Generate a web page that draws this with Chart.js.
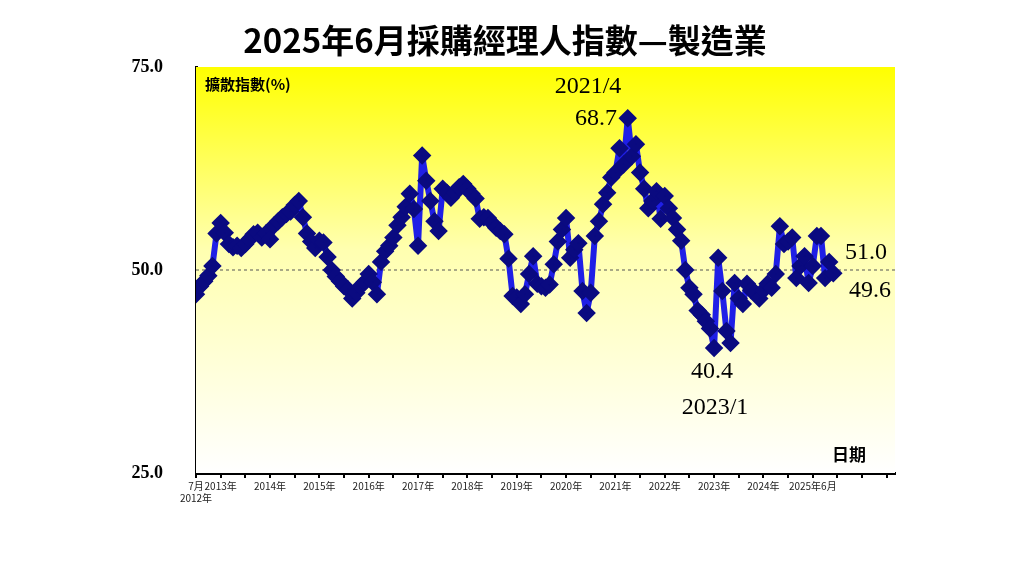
<!DOCTYPE html>
<html>
<head>
<meta charset="utf-8">
<script src="https://cdn.jsdelivr.net/npm/chart.js@4/dist/chart.umd.min.js"></script>
<style>
  body { margin: 0; background: #fff; }
  canvas { display: block; }
</style>
</head>
<body>
<canvas id="pmiChart" width="1024" height="576"></canvas>
<script>
/* 資料：2012年7月 ~ 2025年6月 */
const months = Array.from({ length: 156 }, (_, i) => i);
const pmi = [
  47.0, 48.0, 48.6, 49.3, 50.5, 54.5, 55.8, 54.6, 53.2, 52.8, 53.0, 52.7,
  53.2, 53.8, 54.4, 54.6, 54.0, 54.5, 53.8, 55.5, 56.0, 56.5, 56.9, 57.2,
  58.0, 58.5, 56.5, 54.5, 53.5, 52.7, 53.6, 53.4, 51.6, 50.0, 49.2, 48.6,
  48.0, 47.6, 46.5, 47.2, 48.0, 48.5, 49.5, 48.5, 47.0, 51.0, 52.3, 53.0,
  54.0, 55.5, 56.5, 57.8, 59.4, 57.5, 53.0, 64.1, 61.0, 58.5, 56.0, 54.8,
  60.0, 59.5, 58.9, 59.5, 60.2, 60.6, 60.0, 59.4, 58.8, 56.3, 56.5, 56.4,
  55.8, 55.2, 54.8, 54.4, 51.4, 46.8, 46.6, 45.8, 47.0, 49.5, 51.7, 48.3,
  48.0, 47.8, 48.2, 50.7, 53.5, 55.0, 56.4, 51.5, 52.5, 53.3, 47.4, 44.7,
  47.2, 54.2, 56.0, 58.1, 59.5, 61.4, 62.0, 65.0, 63.0, 68.7, 64.0, 65.5,
  62.0, 60.0, 57.6, 58.5, 59.7, 56.3, 59.1, 57.6, 56.4, 55.0, 53.6, 50.0,
  47.8, 47.0, 45.0, 44.5, 43.7, 42.8, 40.4, 51.5, 47.4, 42.5, 41.0, 48.4,
  46.5, 45.8, 48.3, 47.5, 47.2, 46.5, 47.5, 48.3, 47.8, 49.5, 55.4, 53.2,
  53.5, 54.0, 49.0, 50.5, 51.7, 48.4, 50.5, 54.2, 54.2, 49.0, 51.0, 49.6
];
const yTicks = [25, 50, 75];
const yearLabels = ['2013年', '2014年', '2015年', '2016年', '2017年', '2018年',
  '2019年', '2020年', '2021年', '2022年', '2023年', '2024年'];
const firstLabel = ['7月', '2012年'];
const lastLabel = '2025年6月';

const ctx = document.getElementById('pmiChart').getContext('2d');

/* 背景、基準線、文字 */
const decor = {
  id: 'decor',
  beforeDatasetsDraw(chart) {
    const { ctx, chartArea: a, scales } = chart;
    const g = ctx.createLinearGradient(0, a.top, 0, a.bottom);
    g.addColorStop(0, '#ffff00');
    g.addColorStop(0.45, '#ffffb0');
    g.addColorStop(1, '#ffffff');
    ctx.save();
    ctx.fillStyle = g;
    ctx.fillRect(a.left, a.top, a.right - a.left, a.bottom - a.top);
    const y50 = scales.y.getPixelForValue(50);
    ctx.setLineDash([3, 3]);
    ctx.strokeStyle = '#555';
    ctx.lineWidth = 1;
    ctx.beginPath();
    ctx.moveTo(a.left, y50);
    ctx.lineTo(a.right, y50);
    ctx.stroke();
    ctx.restore();
  },
  afterDraw(chart) {
    const c = chart.ctx;
    c.save();
    c.fillStyle = '#000';
    c.textAlign = 'center';
    c.textBaseline = 'middle';
    c.font = 'bold 33px "Noto Sans CJK TC"';
    c.fillText('2025年6月採購經理人指數—製造業', 505, 40);
    c.font = 'bold 15px "Noto Sans CJK TC"';
    c.textAlign = 'left';
    c.fillText('擴散指數(%)', 205, 84);
    c.font = 'bold 17px "Noto Sans CJK TC"';
    c.fillText('日期', 832, 455);
    c.textAlign = 'center';
    c.font = '24px "Liberation Serif"';
    c.fillText('2021/4', 588, 87);
    c.fillText('68.7', 596, 119);
    c.fillText('40.4', 712, 372);
    c.fillText('2023/1', 715, 408);
    c.fillText('51.0', 866, 253);
    c.fillText('49.6', 870, 291);
    c.restore();
  }
};

new Chart(ctx, {
  type: 'line',
  data: {
    labels: months,
    datasets: [{
      data: months.map((m, i) => ({ x: m, y: pmi[i] })),
      borderColor: '#1f1fe6',
      borderWidth: 6,
      borderJoinStyle: 'round',
      pointStyle: 'rectRot',
      pointRadius: 5,
      pointBackgroundColor: '#0a0a80',
      pointBorderColor: '#0a0a80',
      tension: 0
    }]
  },
  options: {
    responsive: false,
    animation: false,
    layout: { padding: { top: 67, right: 129 } },
    plugins: { legend: { display: false }, tooltip: { enabled: false } },
    scales: {
      x: {
        type: 'linear',
        min: 0,
        max: 170,
        afterFit(s) { s.height = 103; },
        afterBuildTicks(s) {
          s.ticks = [];
          for (let v = 0; v <= 168; v += 6) s.ticks.push({ value: v });
        },
        border: { color: '#000', width: 3 },
        grid: { drawOnChartArea: false, color: '#000', tickLength: 5, lineWidth: 2 },
        ticks: {
          autoSkip: false,
          maxRotation: 0,
          color: '#222',
          padding: 2,
          font: { size: 10, family: '"Noto Sans CJK TC"' },
          callback(v) {
            if (v === 0) return firstLabel;
            if (v === 150) return lastLabel;
            if (v % 12 === 6 && v < 144) return yearLabels[(v - 6) / 12];
            return '';
          }
        }
      },
      y: {
        min: 25,
        max: 75,
        afterFit(s) { s.width = 196; },
        afterBuildTicks(s) { s.ticks = yTicks.map(v => ({ value: v })); },
        border: { color: '#000', width: 3 },
        grid: { display: false },
        ticks: {
          color: '#000',
          padding: 25,
          font: { size: 18, weight: 'bold', family: 'Liberation Serif' },
          callback: v => v.toFixed(1)
        }
      }
    }
  },
  plugins: [decor]
});
</script>
</body>
</html>
